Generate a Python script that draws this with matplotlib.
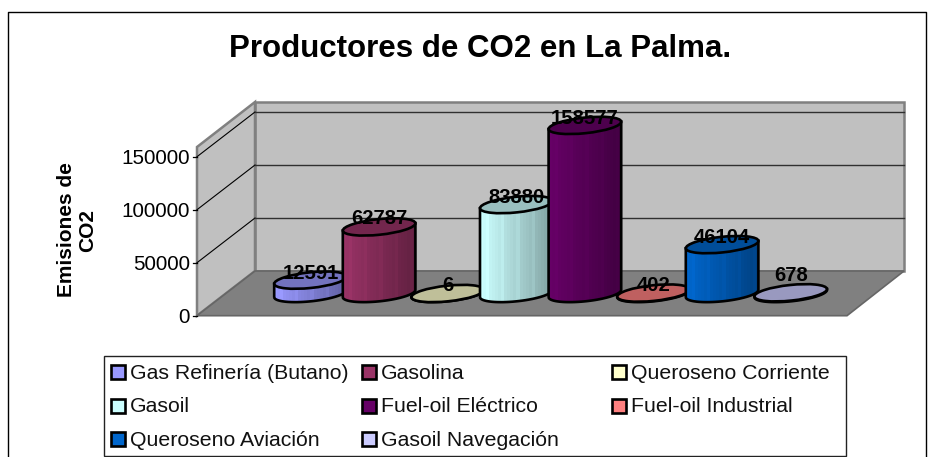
#!/usr/bin/env python3
"""Pseudo-3D cylinder chart: productores de CO2 en La Palma."""
import matplotlib
matplotlib.use("Agg")
import matplotlib.pyplot as plt
import numpy as np
from matplotlib.patches import Ellipse, PathPatch, Polygon, Rectangle
from matplotlib.path import Path

plt.rcParams["font.family"] = ["Liberation Sans", "DejaVu Sans"]

categories = [
    "Gas Refinería (Butano)", "Gasolina", "Queroseno Corriente", "Gasoil",
    "Fuel-oil Eléctrico", "Fuel-oil Industrial", "Queroseno Aviación", "Gasoil Navegación",
]
values = [12591, 62787, 6, 83880, 158577, 402, 46104, 678]
colors = ["#9999FF", "#993366", "#FFFFCC", "#CCFFFF", "#660066", "#FF8080", "#0066CC", "#CCCCFF"]
y_ticks = [0, 50000, 100000, 150000]

# chart is laid out in pixels of the 938x457 image
W, H = 938, 457
Y0_FRONT, Y0_BACK = 315.7, 271.0
PX_PER_UNIT = 53.0 / 50000
X_FL, X_BL, X_FR, X_BR = 197, 255, 847, 904
TOP_BACK, TOP_FRONT = 102, 147
BAR_X0, BAR_DX = 310.5, 68.6
BASE_Y = 293.5
A, B, TILT = 36.5, 7.8, np.radians(6)
LABEL_DY = [-7, -8, -8, -7, -7, -8, -7, -17]


def ellipse_points(cx, cy, t):
    x = cx + A * np.cos(t) * np.cos(TILT) - B * np.sin(t) * np.sin(TILT)
    y = cy - (A * np.cos(t) * np.sin(TILT) + B * np.sin(t) * np.cos(TILT))
    return x, y


def draw_cylinder(ax, cx, value, color, z):
    h = value * PX_PER_UNIT
    rgb = np.array(matplotlib.colors.to_rgb(color))
    t0 = np.arctan(-(B / A) * np.tan(TILT))
    t = np.linspace(t0 + np.pi, t0 + 2 * np.pi, 60)
    xs, ys = ellipse_points(cx, BASE_Y, t)
    verts = list(zip(xs, ys)) + [(xs[-1], ys[-1] - h), (xs[0], ys[0] - h), (xs[0], ys[0])]
    path = Path(verts)

    # left-to-right shading with the faint stripes of the old renderer
    n = 24
    shade = np.linspace(1.0, 0.64, n) + np.where(np.arange(n) % 5 == 2, 0.04, 0.0)
    ramp = np.clip(shade[None, :, None] * rgb, 0, 1)
    top = min(ys) - h - 2
    im = ax.imshow(ramp, extent=(xs[0], xs[-1], max(ys) + 1, top), aspect="auto",
                   interpolation="nearest", zorder=z)
    im.set_clip_path(PathPatch(path, transform=ax.transData))
    ax.add_patch(PathPatch(path, fill=False, ec="black", lw=1.9, zorder=z + 0.1))
    ax.add_patch(Ellipse((cx, BASE_Y - h), 2 * A, 2 * B, angle=-np.degrees(TILT),
                         fc=rgb * 0.75, ec="black", lw=1.9, zorder=z + 0.2))
    return BASE_Y - h


fig = plt.figure(figsize=(W / 100, H / 100), dpi=100)
ax = fig.add_axes([0, 0, 1, 1])
ax.axis("off")

# outer frame (cut off by the bottom of the image)
ax.plot([8, 8, 926, 926], [H + 2, 11.5, 11.5, H + 2], color="black", lw=1.0, zorder=1)

# walls and floor
ax.add_patch(Polygon([(X_BL, TOP_BACK), (X_BR, TOP_BACK), (X_BR, Y0_BACK), (X_BL, Y0_BACK)],
                     fc="#C0C0C0", ec="#808080", lw=1.8, zorder=2))
ax.add_patch(Polygon([(X_FL, TOP_FRONT), (X_BL, TOP_BACK), (X_BL, Y0_BACK), (X_FL, Y0_FRONT)],
                     fc="#C0C0C0", ec="#808080", lw=1.8, zorder=2))
ax.add_patch(Polygon([(X_FL, Y0_FRONT), (X_FR, Y0_FRONT), (X_BR, Y0_BACK), (X_BL, Y0_BACK)],
                     fc="#808080", ec="#666666", lw=1.2, zorder=2))

for tick in y_ticks:
    yf = Y0_FRONT - tick * PX_PER_UNIT
    yb = Y0_BACK - tick * PX_PER_UNIT
    ax.plot([X_FL - 4, X_FL], [yf, yf], color="black", lw=0.9, zorder=3)
    if tick > 0:
        ax.plot([X_FL, X_BL], [yf, yb], color="black", lw=0.8, zorder=3)
        ax.plot([X_BL, X_BR], [yb, yb], color="#303030", lw=1.0, zorder=3)
    ax.text(190, yf + 1.5, str(tick), ha="right", va="center", fontsize=14.9, zorder=3)

# cylinders, then labels over everything
tops = []
for i, (val, col) in enumerate(zip(values, colors)):
    tops.append(draw_cylinder(ax, BAR_X0 + i * BAR_DX, val, col, 4 + i))
for i, (val, yt) in enumerate(zip(values, tops)):
    ax.text(BAR_X0 + i * BAR_DX, yt + LABEL_DY[i], str(val), ha="center", va="center",
            fontsize=14.6, fontweight="bold", zorder=20)

ax.text(480.5, 49, "Productores de CO2 en La Palma.", ha="center", va="center",
        fontsize=22.5, fontweight="bold", zorder=20)
ax.text(77, 230, "Emisiones de\nCO2", ha="center", va="center", rotation=90,
        fontsize=15, fontweight="bold", linespacing=1.2, zorder=20)

# legend
ax.add_patch(Rectangle((103.5, 355.5), 742, 100.5, fc="white", ec="#222222", lw=1.0, zorder=20))
col_x = [110.5, 361.5, 611.5]
row_y = [372, 405.5, 439]
for i, (name, col) in enumerate(zip(categories, colors)):
    sx, sy = col_x[i % 3], row_y[i // 3]
    ax.add_patch(Rectangle((sx, sy - 7), 14, 14, fc=col, ec="black", lw=1.9, zorder=21))
    ax.text(sx + 19.5, sy + 1.5, name, ha="left", va="center", fontsize=15.3, color="#111111", zorder=21)

ax.set_xlim(0, W)
ax.set_ylim(H, 0)
fig.savefig("out.png", dpi=100)
